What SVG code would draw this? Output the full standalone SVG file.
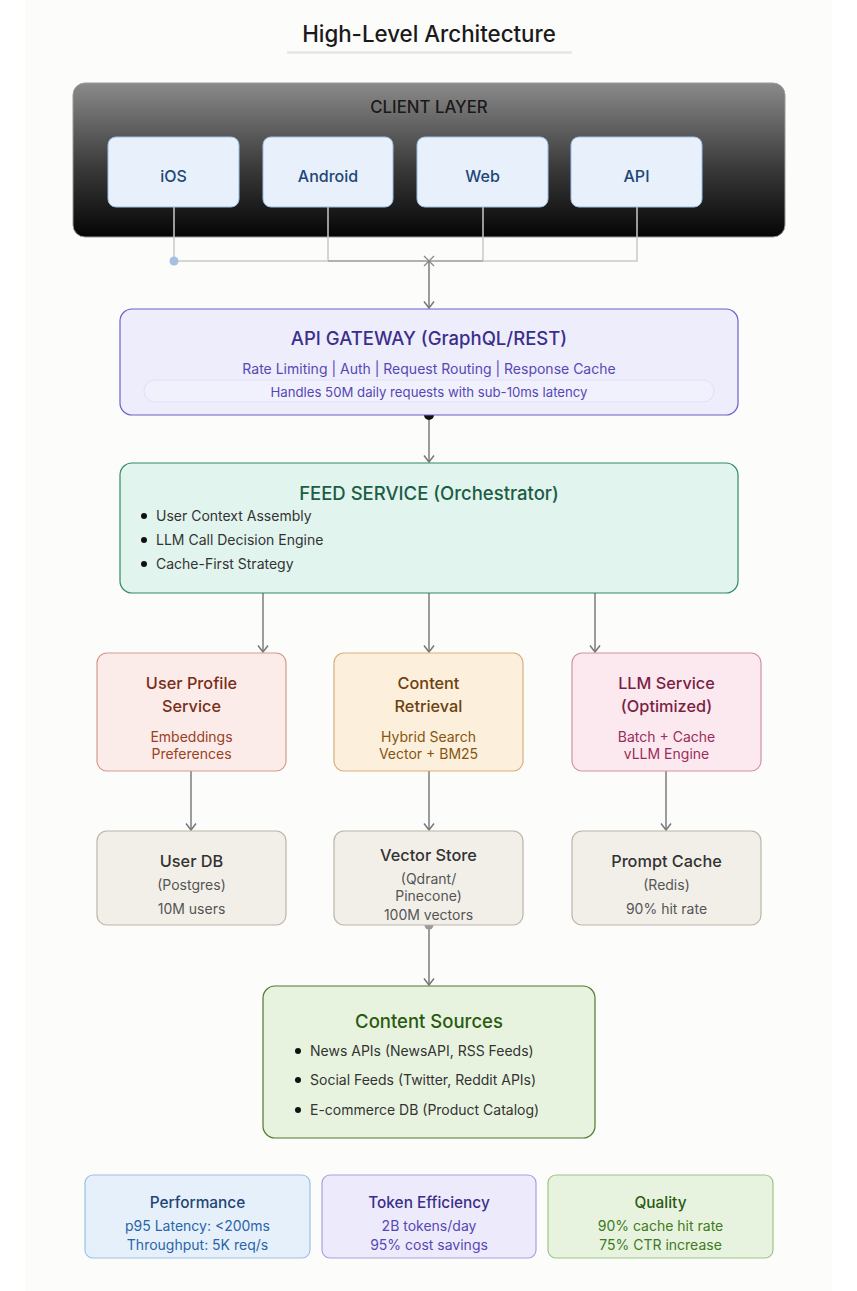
<svg xmlns="http://www.w3.org/2000/svg" width="857" height="1291" viewBox="0 0 857 1291">
  <defs>
    <linearGradient id="clientGrad" x1="0" y1="0" x2="0" y2="1">
      <stop offset="0" stop-color="#8a8a8a"/>
      <stop offset="0.55" stop-color="#3a3a3a"/>
      <stop offset="1" stop-color="#050505"/>
    </linearGradient>
    <!-- open V arrowhead, drawn pointing along +x so orient="auto" follows the line -->
    <marker id="arrow" viewBox="0 0 12 12" refX="11" refY="6" markerWidth="12" markerHeight="12" markerUnits="userSpaceOnUse" orient="auto">
      <path d="M4.5 1 L11 6 L4.5 11" fill="none" stroke="#777" stroke-width="1.5"/>
    </marker>
  </defs>
  <style>
    text { font-family: Inter, "Noto Sans", "Liberation Sans", sans-serif; text-anchor: middle; }
    .box { stroke-width: 1.2; }
    .client { fill: #e7f0fb; stroke: #9dbfe6; stroke-width: 1; }
    .client-label { font-size: 16px; font-weight: 500; fill: #1e4676; }
    .h1 { font-size: 18.5px; font-weight: 500; }
    .h2 { font-size: 16.3px; font-weight: 500; }
    .h3 { font-size: 15.4px; font-weight: 500; }
    .sub { font-size: 14px; }
    .small { font-size: 13.2px; }
    .item { font-size: 14px; fill: #333; text-anchor: start; }
    .conn { fill: none; stroke: #7d7d7d; stroke-width: 1.5; }
    .thin { fill: none; stroke: #c9c9c9; stroke-width: 1.5; }
  </style>

  <!-- page -->
  <rect x="0" y="0" width="857" height="1291" fill="#ffffff"/>
  <rect x="25" y="0" width="807" height="1291" fill="#fcfcfb"/>

  <!-- title -->
  <g id="title">
    <text x="429" y="42" style="font-size:22.3px;font-weight:500;fill:#1a1a1a">High-Level Architecture</text>
    <line x1="287" y1="52.5" x2="572" y2="52.5" stroke="#e6e6e6" stroke-width="2.5"/>
  </g>

  <!-- client layer -->
  <g id="client-layer">
    <rect x="73" y="83" width="712" height="154" rx="12" fill="url(#clientGrad)" stroke="#9a9a9a" stroke-width="1"/>
    <text x="429" y="113" style="font-size:16.8px;font-weight:500;fill:#1a1a1a">CLIENT LAYER</text>
  </g>

  <!-- connectors -->
  <g id="connectors">
    <path class="thin" d="M174 207 V261 H637 V207"/>
    <path class="thin" d="M328 207 V261"/>
    <path class="thin" d="M483 207 V261"/>
    <path d="M328 261 H483" fill="none" stroke="#a5a5a5" stroke-width="1.5"/>
    <circle cx="174" cy="261" r="4.5" fill="#a9bfe2"/>
    <path d="M424 256 L434 266 M434 256 L424 266" stroke="#8a8a8a" stroke-width="1.3"/>
    <path class="conn" d="M429 261 V308" marker-end="url(#arrow)"/>

    <path class="conn" d="M429 415 V462" marker-end="url(#arrow)"/>
    <circle cx="429" cy="415" r="5" fill="#111"/>

    <path class="conn" d="M263 593 V652" marker-end="url(#arrow)"/>
    <path class="conn" d="M429 593 V652" marker-end="url(#arrow)"/>
    <path class="conn" d="M595 593 V652" marker-end="url(#arrow)"/>

    <path class="conn" d="M191 771 V830" marker-end="url(#arrow)"/>
    <path class="conn" d="M429 771 V830" marker-end="url(#arrow)"/>
    <path class="conn" d="M666 771 V830" marker-end="url(#arrow)"/>

    <path class="conn" d="M429 925 V985" marker-end="url(#arrow)"/>
    <circle cx="429" cy="925" r="4.5" fill="#999"/>
  </g>

  <!-- client nodes -->
  <g id="ios">
    <rect class="client" x="108" y="137" width="131" height="70" rx="8"/>
    <text class="client-label" x="173.5" y="182">iOS</text>
  </g>
  <g id="android">
    <rect class="client" x="263" y="137" width="130" height="70" rx="8"/>
    <text class="client-label" x="328" y="182">Android</text>
  </g>
  <g id="web">
    <rect class="client" x="417" y="137" width="131" height="70" rx="8"/>
    <text class="client-label" x="482.5" y="182">Web</text>
  </g>
  <g id="api">
    <rect class="client" x="571" y="137" width="131" height="70" rx="8"/>
    <text class="client-label" x="636.5" y="182">API</text>
  </g>

  <!-- api gateway -->
  <g id="api-gateway">
    <rect class="box" x="120" y="309" width="618" height="106" rx="12" fill="#eeedfc" stroke="#6a5fc6"/>
    <text class="h1" x="429" y="345" fill="#3b2f8c">API GATEWAY (GraphQL/REST)</text>
    <text class="sub" x="429" y="374" fill="#5548b6">Rate Limiting | Auth | Request Routing | Response Cache</text>
    <rect x="144" y="380" width="570" height="22" rx="11" fill="#f1f0fd" stroke="#e1dff8" stroke-width="1"/>
    <text class="small" x="429" y="397" fill="#5548b6">Handles 50M daily requests with sub-10ms latency</text>
  </g>

  <!-- feed service -->
  <g id="feed-service">
    <rect class="box" x="120" y="463" width="618" height="130" rx="12" fill="#e2f4ee" stroke="#2f8a68"/>
    <text class="h1" x="429" y="500" fill="#1b5d45">FEED SERVICE (Orchestrator)</text>
    <circle cx="144" cy="516" r="3" fill="#111"/>
    <text class="item" x="156" y="521">User Context Assembly</text>
    <circle cx="144" cy="540" r="3" fill="#111"/>
    <text class="item" x="156" y="545">LLM Call Decision Engine</text>
    <circle cx="144" cy="564" r="3" fill="#111"/>
    <text class="item" x="156" y="569">Cache-First Strategy</text>
  </g>

  <!-- services -->
  <g id="user-profile-service">
    <rect class="box" x="97" y="653" width="189" height="118" rx="10" fill="#fbecea" stroke="#d49a8e"/>
    <text class="h2" x="191.5" y="689" fill="#7a2e18">User Profile</text>
    <text class="h2" x="191.5" y="712" fill="#7a2e18">Service</text>
    <text class="sub" x="191.5" y="742" fill="#9a4024">Embeddings</text>
    <text class="sub" x="191.5" y="759" fill="#9a4024">Preferences</text>
  </g>
  <g id="content-retrieval">
    <rect class="box" x="334" y="653" width="189" height="118" rx="10" fill="#fcefdc" stroke="#d7b078"/>
    <text class="h2" x="428.5" y="689" fill="#6b4210">Content</text>
    <text class="h2" x="428.5" y="712" fill="#6b4210">Retrieval</text>
    <text class="sub" x="428.5" y="742" fill="#85550f">Hybrid Search</text>
    <text class="sub" x="428.5" y="759" fill="#85550f">Vector + BM25</text>
  </g>
  <g id="llm-service">
    <rect class="box" x="572" y="653" width="189" height="118" rx="10" fill="#fce8ef" stroke="#d590a8"/>
    <text class="h2" x="666.5" y="689" fill="#7a1f44">LLM Service</text>
    <text class="h2" x="666.5" y="712" fill="#7a1f44">(Optimized)</text>
    <text class="sub" x="666.5" y="742" fill="#9a2d5a">Batch + Cache</text>
    <text class="sub" x="666.5" y="759" fill="#9a2d5a">vLLM Engine</text>
  </g>

  <!-- stores -->
  <g id="user-db">
    <rect class="box" x="97" y="831" width="189" height="94" rx="10" fill="#f2efe9" stroke="#bcb4a7"/>
    <text class="h2" x="191.5" y="867" fill="#333">User DB</text>
    <text class="sub" x="191.5" y="890" fill="#555">(Postgres)</text>
    <text class="sub" x="191.5" y="914" fill="#555">10M users</text>
  </g>
  <g id="vector-store">
    <rect class="box" x="334" y="831" width="189" height="94" rx="10" fill="#f2efe9" stroke="#bcb4a7"/>
    <text class="h2" x="428.5" y="861" fill="#333">Vector Store</text>
    <text class="sub" x="428.5" y="884" fill="#555">(Qdrant/</text>
    <text class="sub" x="428.5" y="901" fill="#555">Pinecone)</text>
    <text class="sub" x="428.5" y="920" fill="#555">100M vectors</text>
  </g>
  <g id="prompt-cache">
    <rect class="box" x="572" y="831" width="189" height="94" rx="10" fill="#f2efe9" stroke="#bcb4a7"/>
    <text class="h2" x="666.5" y="867" fill="#333">Prompt Cache</text>
    <text class="sub" x="666.5" y="890" fill="#555">(Redis)</text>
    <text class="sub" x="666.5" y="914" fill="#555">90% hit rate</text>
  </g>

  <!-- content sources -->
  <g id="content-sources">
    <rect class="box" x="263" y="986" width="332" height="152" rx="12" fill="#e8f3df" stroke="#4b7b2b"/>
    <text class="h1" x="429" y="1028" fill="#2a5a12">Content Sources</text>
    <circle cx="298" cy="1051" r="3" fill="#111"/>
    <text class="item" x="310" y="1056">News APIs (NewsAPI, RSS Feeds)</text>
    <circle cx="298" cy="1080" r="3" fill="#111"/>
    <text class="item" x="310" y="1085">Social Feeds (Twitter, Reddit APIs)</text>
    <circle cx="298" cy="1110" r="3" fill="#111"/>
    <text class="item" x="310" y="1115">E-commerce DB (Product Catalog)</text>
  </g>

  <!-- metrics -->
  <g id="performance">
    <rect class="box" x="85" y="1175" width="225" height="83" rx="8" fill="#e6f0fb" stroke="#9cc0e6"/>
    <text class="h3" x="197.5" y="1208" fill="#1e4676">Performance</text>
    <text class="sub" x="197.5" y="1231" fill="#2a64a8">p95 Latency: &lt;200ms</text>
    <text class="sub" x="197.5" y="1250" fill="#2a64a8">Throughput: 5K req/s</text>
  </g>
  <g id="token-efficiency">
    <rect class="box" x="322" y="1175" width="214" height="83" rx="8" fill="#edebfb" stroke="#a79fe0"/>
    <text class="h3" x="429" y="1208" fill="#3b2f8c">Token Efficiency</text>
    <text class="sub" x="429" y="1231" fill="#5548b6">2B tokens/day</text>
    <text class="sub" x="429" y="1250" fill="#5548b6">95% cost savings</text>
  </g>
  <g id="quality">
    <rect class="box" x="548" y="1175" width="225" height="83" rx="8" fill="#e8f3df" stroke="#9cc48a"/>
    <text class="h3" x="660.5" y="1208" fill="#2a5a12">Quality</text>
    <text class="sub" x="660.5" y="1231" fill="#3f7a1e">90% cache hit rate</text>
    <text class="sub" x="660.5" y="1250" fill="#3f7a1e">75% CTR increase</text>
  </g>
</svg>
